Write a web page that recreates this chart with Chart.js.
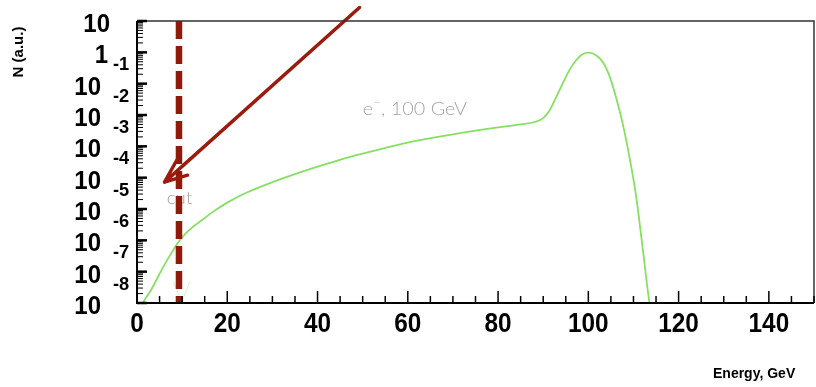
<!DOCTYPE html>
<html>
<head>
<meta charset="utf-8">
<script src="https://cdn.jsdelivr.net/npm/chart.js@4.4.1/dist/chart.umd.min.js"></script>
<style>
  html, body { margin: 0; padding: 0; background: #fff; }
</style>
</head>
<body>
<canvas id="mycanvas" width="816" height="387"></canvas>
<script>
// spectrum (energy in GeV, N in a.u.)
var energy = [0.8, 1.4, 2.8, 3.6, 5.4, 7.6, 9.8, 12.0, 13.9, 16.8, 20, 24.2, 30, 35.3, 42, 48, 53.7, 60, 70, 80, 85, 88.5,
              89.9, 91.4, 92.9, 94.3, 95.8, 97.3, 98.7, 100.1, 101.7, 103.2, 104.6, 106.1, 107.6, 109.1, 110.6, 112.0, 113.5, 114.2];
var counts = [6e-9, 1.05e-8, 2.2e-8, 3.5e-8, 1.1e-7, 3.9e-7, 1.15e-6, 2.4e-6, 3.9e-6, 8.1e-6, 1.6e-5, 3.3e-5, 7.2e-5, 1.35e-4, 2.75e-4, 5.0e-4, 8.0e-4, 1.32e-3, 2.4e-3, 4.0e-3, 5.0e-3, 6.2e-3,
              7.8e-3, 1.4e-2, 3.8e-2, 0.1, 0.27, 0.56, 0.87, 0.98, 0.81, 0.49, 0.19, 0.038, 5.4e-3, 4.6e-4, 2.5e-5, 6.3e-7, 1.1e-8, 3e-9];

// faint mark at the foot of the cut
var footE = [8.0, 9.9, 11.8];
var footN = [5e-8, 1.1e-8, 5e-8];

// cut line
var cutE = [9.3, 9.3];
var cutN = [10, 1e-8];

// arrow: tail, tip, barb, tip, barb
var arrowE = [49.3, 6.1, 8.8, 6.1, 11.2];
var arrowN = [27, 7.2e-5, 3.6e-4, 7.2e-5, 1.2e-4];

// axes
var xTicks = [0, 20, 40, 60, 80, 100, 120, 140];
var xTickLabels = ['0', '20', '40', '60', '80', '100', '120', '140'];
var yTicks = [10, 1, 1e-1, 1e-2, 1e-3, 1e-4, 1e-5, 1e-6, 1e-7, 1e-8];
var yTickBase = ['10', '1', '10', '10', '10', '10', '10', '10', '10', '10'];
var yTickExp = ['', '-1', '-2', '-3', '-4', '-5', '-6', '-7', '-8', ''];

function pts(xs, ys) {
  var out = [];
  for (var i = 0; i < xs.length; i++) out.push({x: xs[i], y: ys[i]});
  return out;
}

function putText(ctx, txt, x, y, align, sx) {
  ctx.save();
  ctx.translate(x, y);
  ctx.scale(sx, 1);
  ctx.textAlign = align;
  ctx.fillText(txt, 0, 0);
  ctx.restore();
}

var rootAxes = {
  id: 'rootAxes',
  beforeDatasetsDraw: function(chart) {
    var ctx = chart.ctx, xs = chart.scales.x, ys = chart.scales.y;
    ctx.save();
    ctx.fillStyle = '#a4a4a4';
    ctx.textBaseline = 'alphabetic';
    ctx.textAlign = 'left';
    // e-, 100 GeV
    var x0 = xs.getPixelForValue(50), y0 = ys.getPixelForValue(0.01);
    ctx.font = '300 18px Lato, "DejaVu Sans", sans-serif';
    ctx.save();
    ctx.translate(x0, y0);
    ctx.scale(1.1, 1);
    ctx.fillText('e', 0, 0);
    var w = ctx.measureText('e').width;
    ctx.font = '300 11px Lato, "DejaVu Sans", sans-serif';
    ctx.fillText('\u2212', w + 0.5, -9);
    var w2 = ctx.measureText('\u2212').width;
    ctx.font = '300 18px Lato, "DejaVu Sans", sans-serif';
    ctx.fillText(', 100 GeV', w + w2 + 1, 0);
    ctx.restore();
    // cut
    ctx.font = '300 17px Lato, "DejaVu Sans", sans-serif';
    putText(ctx, 'cut', xs.getPixelForValue(6.6), ys.getPixelForValue(1.4e-5), 'left', 1.1);
    ctx.restore();
  },
  afterDatasetsDraw: function(chart) {
    var ctx = chart.ctx, xs = chart.scales.x, ys = chart.scales.y, a = chart.chartArea;
    ctx.save();
    // frame
    ctx.strokeStyle = '#333';
    ctx.lineWidth = 1.5;
    ctx.beginPath();
    ctx.moveTo(a.left, a.top); ctx.lineTo(a.right, a.top); ctx.lineTo(a.right, a.bottom);
    ctx.stroke();
    ctx.strokeStyle = '#000';
    ctx.lineWidth = 2;
    ctx.beginPath();
    ctx.moveTo(a.left, a.top); ctx.lineTo(a.left, a.bottom); ctx.lineTo(a.right, a.bottom);
    ctx.stroke();

    // x ticks, pointing inwards
    ctx.lineWidth = 1.5;
    for (var v = 0; v <= 150; v += 5) {
      var px = xs.getPixelForValue(v);
      var len = (v % 20 === 0) ? 12 : 7;
      ctx.beginPath();
      ctx.moveTo(px, a.bottom); ctx.lineTo(px, a.bottom - len);
      ctx.stroke();
    }
    // y ticks
    for (var e = -8; e <= 0; e++) {
      for (var m = 1; m <= 9; m++) {
        var py = ys.getPixelForValue(m * Math.pow(10, e));
        ctx.lineWidth = (m === 1) ? 2.5 : 1;
        ctx.beginPath();
        ctx.moveTo(a.left, py); ctx.lineTo(a.left + (m === 1 ? 10 : 6), py);
        ctx.stroke();
      }
    }
    ctx.lineWidth = 2.5;
    ctx.beginPath();
    ctx.moveTo(a.left, ys.getPixelForValue(10)); ctx.lineTo(a.left + 10, ys.getPixelForValue(10));
    ctx.stroke();

    // labels
    ctx.fillStyle = '#000';
    ctx.textBaseline = 'alphabetic';
    ctx.font = 'bold 28px "Liberation Sans", Arial, sans-serif';
    for (var i = 0; i < xTicks.length; i++) {
      putText(ctx, xTickLabels[i], xs.getPixelForValue(xTicks[i]), 332, 'center', 0.87);
    }
    for (var j = 0; j < yTicks.length; j++) {
      var ty = ys.getPixelForValue(yTicks[j]);
      var rx = (j === 0) ? 110 : (yTickBase[j] === '1' ? 108 : 101);
      ctx.font = 'bold 25px "Liberation Sans", Arial, sans-serif';
      putText(ctx, yTickBase[j], rx, ty + 11, 'right', 0.96);
      if (yTickExp[j]) {
        ctx.font = 'bold 19px "Liberation Sans", Arial, sans-serif';
        putText(ctx, yTickExp[j], 113, ty + 18, 'left', 0.96);
      }
    }
    // axis titles
    ctx.font = 'bold 14px "Liberation Sans", Arial, sans-serif';
    ctx.textAlign = 'left';
    ctx.fillText('Energy, GeV', 713, 378);
    ctx.save();
    ctx.translate(23, 52);
    ctx.rotate(-Math.PI / 2);
    ctx.textAlign = 'center';
    ctx.font = 'bold 15px "Liberation Sans", Arial, sans-serif';
    ctx.fillText('N (a.u.)', 0, 0);
    ctx.restore();
    ctx.restore();
  }
};

var ctx = document.getElementById('mycanvas');

var chart = new Chart(ctx, {
  type: 'scatter',
  data: {
    datasets: [
      {
        label: 'arrow',
        data: pts(arrowE, arrowN),
        showLine: true,
        borderColor: '#9b1b0c',
        borderWidth: 3.5,
        borderJoinStyle: 'round',
        borderCapStyle: 'round',
        pointRadius: 0,
        tension: 0,
        clip: false
      },
      {
        label: 'cut',
        data: pts(cutE, cutN),
        showLine: true,
        borderColor: '#8e1a0c',
        borderWidth: 6.5,
        borderDash: [18, 7],
        pointRadius: 0,
        tension: 0
      },
      {
        label: 'e-, 100 GeV',
        data: pts(energy, counts),
        showLine: true,
        borderColor: '#86e062',
        borderWidth: 1.8,
        pointRadius: 0,
        cubicInterpolationMode: 'monotone'
      },
      {
        label: 'foot',
        data: pts(footE, footN),
        showLine: true,
        borderColor: 'rgba(150, 230, 120, 0.45)',
        borderWidth: 1,
        pointRadius: 0,
        tension: 0
      }
    ]
  },
  options: {
    responsive: false,
    animation: false,
    layout: { padding: { left: 137, top: 21, right: 2, bottom: 84 } },
    plugins: { legend: { display: false }, tooltip: { enabled: false } },
    scales: {
      x: { type: 'linear', min: 0, max: 150, display: false },
      y: { type: 'logarithmic', min: 1e-8, max: 10, display: false }
    }
  },
  plugins: [rootAxes]
});
</script>
</body>
</html>
